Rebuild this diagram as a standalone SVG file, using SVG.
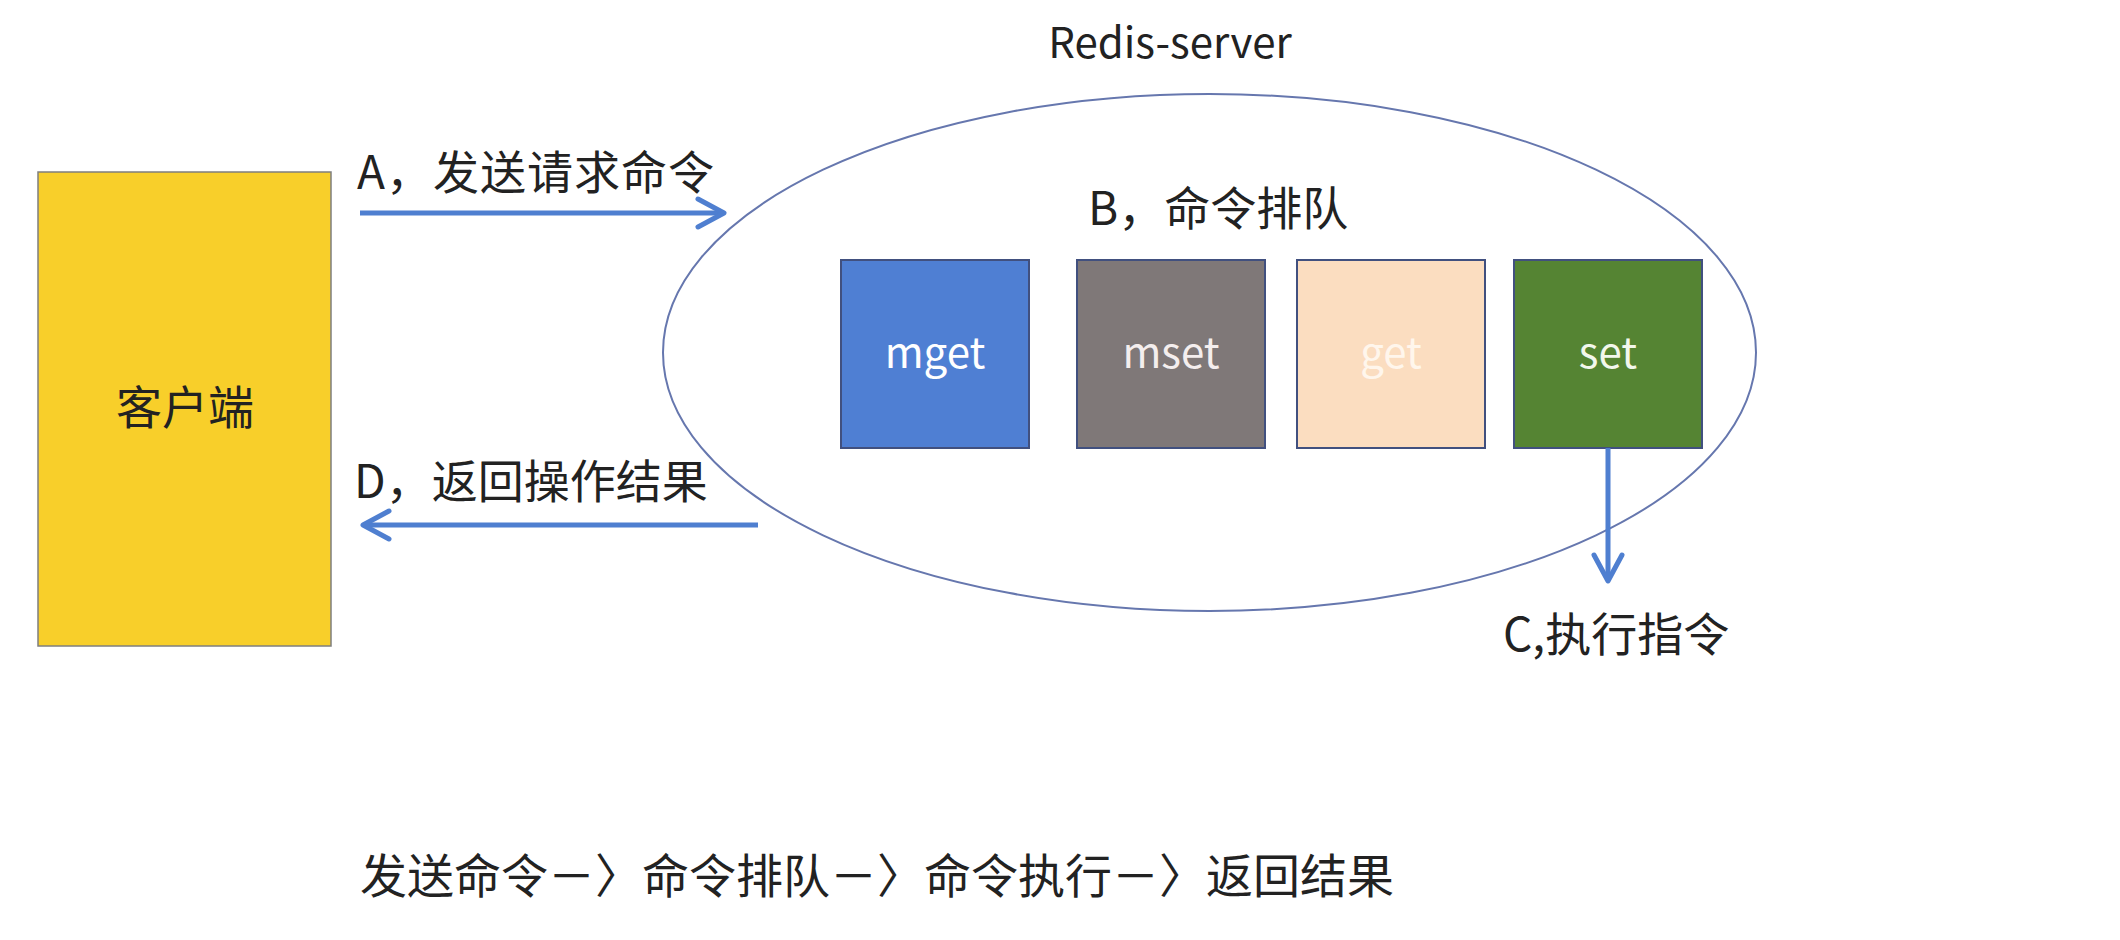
<svg xmlns="http://www.w3.org/2000/svg" width="2120" height="940" viewBox="0 0 2120 940">
<style>
.t{font-family:"Noto Sans CJK SC","Liberation Sans",sans-serif;fill:#222;}
.lbl{font-size:46px;}
.box{stroke:#41507F;stroke-width:2;}
.bt{font-family:"Noto Sans CJK SC","Liberation Sans",sans-serif;font-size:42px;text-anchor:middle;}
.conn{stroke:#4F7FD0;stroke-width:5;fill:none;}
</style>
<defs>
<marker id="ah" markerUnits="userSpaceOnUse" viewBox="0 0 32 34" markerWidth="32" markerHeight="34" refX="29" refY="17" orient="auto" overflow="visible">
<path d="M3,3 L29,17 L3,31" fill="none" stroke="#4F7FD0" stroke-width="5" stroke-linecap="round" stroke-linejoin="round"/>
</marker>
</defs>
<rect width="2120" height="940" fill="#fff"/>
<g id="client">
<rect x="38" y="172" width="293" height="474" fill="#F8CF2A" stroke="#7F7F7F" stroke-width="1.5"/>
<text class="t lbl" x="185" y="424" text-anchor="middle">客户端</text>
</g>
<g id="redis-server">
<text class="t" x="1170" y="58" font-size="42" text-anchor="middle" fill="#333">Redis-server</text>
<ellipse cx="1209.5" cy="352.5" rx="546.5" ry="258.5" fill="none" stroke="#6677AE" stroke-width="2"/>
<text class="t lbl" x="1088" y="225">B，命令排队</text>
</g>
<g id="mget">
<rect class="box" x="841" y="260" width="188" height="188" fill="#4F7FD3"/>
<text class="bt" x="935" y="368" fill="#fff">mget</text>
</g>
<g id="mset">
<rect class="box" x="1077" y="260" width="188" height="188" fill="#7F7878"/>
<text class="bt" x="1171" y="368" fill="#F4EEEE">mset</text>
</g>
<g id="get">
<rect class="box" x="1297" y="260" width="188" height="188" fill="#FBDDC0"/>
<text class="bt" x="1391" y="368" fill="#FFF6EC">get</text>
</g>
<g id="set">
<rect class="box" x="1514" y="260" width="188" height="188" fill="#558433"/>
<text class="bt" x="1608" y="368" fill="#F2F7EC">set</text>
</g>
<g id="connectors">
<line class="conn" x1="360" y1="213" x2="724" y2="213" marker-end="url(#ah)"/>
<line class="conn" x1="758" y1="525" x2="363" y2="525" marker-end="url(#ah)"/>
<line class="conn" x1="1608" y1="448" x2="1608" y2="581" marker-end="url(#ah)"/>
</g>
<g id="labels">
<text class="t lbl" x="357" y="189" letter-spacing="1">A，发送请求命令</text>
<text class="t lbl" x="354" y="498">D，返回操作结果</text>
<text class="t lbl" x="1503" y="651">C,执行指令</text>
<text class="t" x="360" y="893" font-size="47">发送命令－〉命令排队－〉命令执行－〉返回结果</text>
</g>
</svg>
